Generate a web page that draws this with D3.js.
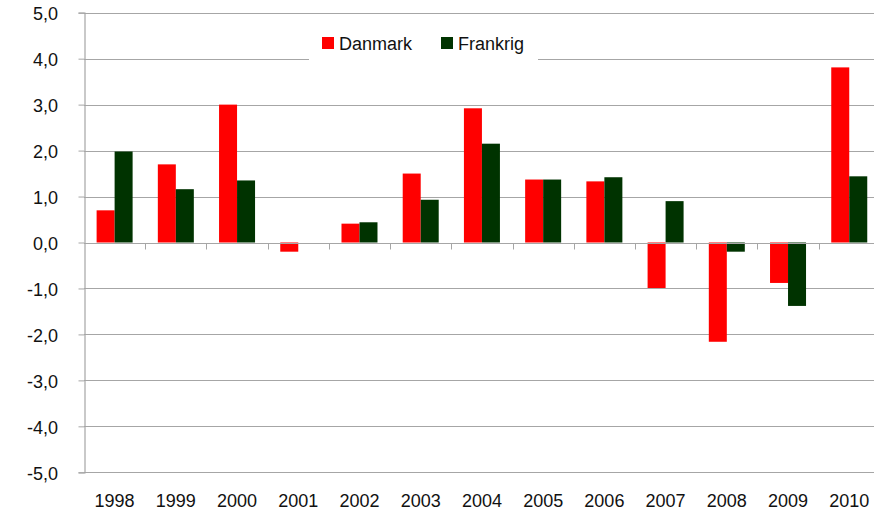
<!DOCTYPE html>
<html>
<head>
<meta charset="utf-8">
<script src="https://cdn.jsdelivr.net/npm/d3@7"></script>
<style>
  body { margin: 0; background: #fff; }
  text { font-family: "Liberation Sans", Arial, sans-serif; }
</style>
</head>
<body>
<div class="chart"></div>
<script>
const years = ["1998","1999","2000","2001","2002","2003","2004","2005","2006","2007","2008","2009","2010"];
const danmark = [0.70, 1.70, 3.00, -0.20, 0.41, 1.50, 2.92, 1.37, 1.33, -0.99, -2.16, -0.88, 3.81];
const frankrig = [1.98, 1.16, 1.35, 0.00, 0.44, 0.93, 2.15, 1.37, 1.42, 0.90, -0.20, -1.38, 1.44];
const seriesNames = ["Danmark", "Frankrig"];
const yTicks = [5, 4, 3, 2, 1, 0, -1, -2, -3, -4, -5];

const outerWidth = 874, outerHeight = 513;
const colors = {Danmark: "#ff0000", Frankrig: "#003300"};
const gridColor = "#a6a6a6";
const fontSize = 18;

const svg = d3.select(".chart").append("svg")
    .attr("width", outerWidth)
    .attr("height", outerHeight);

// plot area runs a little past the right edge, like the source
const xScale = d3.scaleBand()
    .domain(years)
    .range([84, 84 + 13 * 61.22])
    .padding(0);

const yScale = d3.scaleLinear()
    .domain([-5, 5])
    .range([472.3, 12.7]);

const barW = 18;
const xInner = d3.scaleBand()
    .domain(seriesNames)
    .range([xScale.bandwidth() / 2 - barW, xScale.bandwidth() / 2 + barW]);

const fmt = v => v.toFixed(1).replace(".", ",");

// gridlines + y axis
const yAxis = d3.axisLeft(yScale)
    .tickValues(yTicks)
    .tickSize(6)
    .tickFormat(fmt);

svg.append("g")
    .attr("class", "grid")
    .selectAll("line")
    .data(yTicks)
    .enter()
    .append("line")
    .attr("x1", 84)
    .attr("x2", outerWidth)
    .attr("y1", d => Math.round(yScale(d)) + 0.5)
    .attr("y2", d => Math.round(yScale(d)) + 0.5)
    .attr("stroke", gridColor)
    .attr("stroke-width", 1.2);

const gy = svg.append("g")
    .attr("transform", "translate(84.5,0)")
    .call(yAxis);
gy.select(".domain").attr("stroke", gridColor).attr("stroke-width", 1.2);
gy.selectAll(".tick line").attr("stroke", gridColor);
gy.selectAll(".tick text")
    .attr("x", -26.5)
    .attr("dy", "0.4em")
    .attr("font-size", fontSize)
    .attr("fill", "#111")
    .style("font-family", "'Liberation Sans', Arial, sans-serif");

// bars
const rows = years.map((y, i) => ({year: y, values: [
    {name: "Danmark", value: danmark[i]},
    {name: "Frankrig", value: frankrig[i]}
]}));

const groups = svg.selectAll(".yr")
    .data(rows)
    .enter()
    .append("g")
    .attr("class", "yr")
    .attr("transform", d => `translate(${xScale(d.year)},0)`);

groups.selectAll("rect")
    .data(d => d.values)
    .enter()
    .append("rect")
    .attr("x", d => xInner(d.name))
    .attr("width", xInner.bandwidth())
    .attr("y", d => yScale(Math.max(0, d.value)))
    .attr("height", d => Math.abs(yScale(d.value) - yScale(0)))
    .attr("fill", d => colors[d.name]);

// x axis at zero with ticks between categories
const z = Math.round(yScale(0)) + 0.5;
svg.append("line")
    .attr("x1", 84).attr("x2", outerWidth)
    .attr("y1", z).attr("y2", z)
    .attr("stroke", gridColor)
    .attr("stroke-width", 1.2);

svg.append("g")
    .selectAll("line")
    .data(years.slice(1))
    .enter()
    .append("line")
    .attr("x1", d => Math.round(xScale(d)) + 0.5)
    .attr("x2", d => Math.round(xScale(d)) + 0.5)
    .attr("y1", z)
    .attr("y2", z + 6)
    .attr("stroke", gridColor);

// year labels at bottom
svg.append("g")
    .selectAll("text")
    .data(years)
    .enter()
    .append("text")
    .attr("x", d => xScale(d) + xScale.bandwidth() / 2)
    .attr("y", 507)
    .attr("text-anchor", "middle")
    .attr("font-size", fontSize)
    .attr("fill", "#111")
    .text(d => d);

// legend
const legend = svg.append("g").attr("class", "legend");
legend.append("rect")
    .attr("x", 309).attr("y", 30)
    .attr("width", 229).attr("height", 34)
    .attr("fill", "#fff");

const legX = [322, 441];
legend.selectAll(".sw")
    .data(seriesNames)
    .enter()
    .append("rect")
    .attr("x", (d, i) => legX[i])
    .attr("y", 37)
    .attr("width", 12)
    .attr("height", 12)
    .attr("fill", d => colors[d]);

legend.selectAll(".lt")
    .data(seriesNames)
    .enter()
    .append("text")
    .attr("x", (d, i) => legX[i] + 17)
    .attr("y", 50)
    .attr("font-size", fontSize)
    .attr("fill", "#111")
    .text(d => d);
</script>
</body>
</html>
